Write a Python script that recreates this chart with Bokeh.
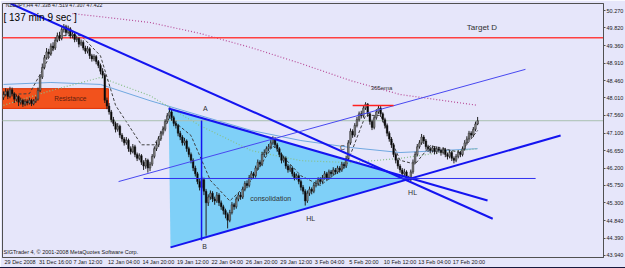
from bokeh.plotting import figure
from bokeh.models import ColumnDataSource, FixedTicker, Range1d, Label, NumeralTickFormatter, Div
from bokeh.layouts import column
from bokeh.embed import file_html
from bokeh.resources import INLINE

# ---------------- data ----------------
close = [48.10,48.18,48.05,48.22,48.12,47.98,48.05,47.90,47.95,47.85,47.92,47.88,47.95,47.86,47.93,47.98,48.20,
         48.55,48.80,49.05,49.20,49.15,49.35,49.30,49.50,49.62,49.55,49.78,49.85,49.70,49.80,49.62,49.66,49.52,49.55,
         49.40,49.45,49.30,49.22,49.28,49.10,49.02,49.08,48.95,48.85,48.70,48.60,47.95,47.80,47.65,47.45,47.35,47.20,
         47.28,47.05,46.95,46.85,46.92,46.70,46.62,46.75,46.55,46.45,46.52,46.35,46.25,46.40,46.20,46.30,46.50,46.70,
         46.80,46.95,47.10,47.20,47.40,47.55,47.65,47.50,47.35,47.30,47.10,47.00,46.85,46.90,46.70,46.55,46.40,46.20,
         46.05,45.85,45.70,45.90,45.60,45.30,45.45,45.55,45.40,45.35,45.50,45.30,45.20,45.10,45.00,44.85,45.05,45.25,
         45.20,45.40,45.50,45.45,45.65,45.80,45.75,45.95,46.05,46.00,46.20,46.35,46.30,46.55,46.60,46.70,46.75,46.85,
         46.95,46.80,46.70,46.55,46.40,46.45,46.25,46.15,46.20,46.05,45.95,46.00,45.85,45.70,45.60,45.35,45.55,45.65,
         45.60,45.75,45.80,45.90,45.85,45.95,46.05,45.95,46.10,46.05,46.15,46.10,46.20,46.15,46.30,46.25,46.45,46.85,
         47.15,47.05,47.30,47.45,47.60,47.55,47.75,47.85,47.60,47.40,47.25,47.50,47.65,47.75,47.60,47.45,47.30,47.10,
         46.95,46.80,46.55,46.40,46.25,46.15,46.05,46.10,45.95,45.90,46.10,46.35,46.55,46.75,46.85,47.00,46.90,46.75,
         46.70,46.65,46.72,46.62,46.70,46.66,46.60,46.68,46.55,46.50,46.60,46.45,46.40,46.50,46.60,46.55,46.70,46.85,
         46.95,47.10,47.05,47.20,47.338,47.422]
high = [48.18,48.26,48.24,48.30,48.28,48.16,48.10,48.08,48.02,47.99,47.98,47.97,48.02,47.99,47.98,48.04,48.28,
        48.62,48.90,49.12,49.30,49.28,49.42,49.45,49.58,49.70,49.72,49.84,49.92,49.90,49.88,49.84,49.74,49.70,49.62,
        49.58,49.52,49.50,49.36,49.35,49.32,49.15,49.14,49.12,48.99,48.90,48.78,48.65,48.02,47.88,47.70,47.52,47.40,
        47.36,47.32,47.10,47.00,47.00,46.96,46.76,46.82,46.80,46.60,46.58,46.56,46.40,46.46,46.44,46.36,46.56,46.76,
        46.88,47.02,47.16,47.28,47.46,47.62,47.76,47.70,47.55,47.42,47.34,47.16,47.05,46.98,46.94,46.75,46.60,46.45,
        46.26,46.10,45.92,45.98,45.95,45.66,45.52,45.62,45.60,45.46,45.58,45.55,45.36,45.25,45.15,45.05,45.12,45.32,
        45.30,45.46,45.56,45.58,45.72,45.86,45.88,46.02,46.12,46.10,46.26,46.42,46.40,46.62,46.68,46.76,46.82,46.92,
        47.02,47.00,46.85,46.74,46.60,46.52,46.50,46.30,46.28,46.24,46.10,46.06,46.04,45.90,45.76,45.65,45.62,45.72,
        45.70,45.82,45.88,45.96,45.96,46.02,46.12,46.10,46.16,46.15,46.22,46.20,46.26,46.25,46.36,46.35,46.52,46.92,
        47.22,47.20,47.36,47.52,47.66,47.68,47.82,47.90,47.88,47.64,47.45,47.56,47.72,47.82,47.80,47.64,47.50,47.35,
        47.15,47.00,46.85,46.60,46.45,46.30,46.20,46.18,46.14,46.00,46.16,46.42,46.62,46.82,46.92,47.08,47.05,46.95,
        46.80,46.75,46.78,46.76,46.76,46.75,46.70,46.74,46.72,46.60,46.66,46.64,46.50,46.56,46.66,46.64,46.76,46.92,
        47.02,47.16,47.15,47.26,47.40,47.519]
low = [47.96,48.05,47.98,48.00,48.05,47.88,47.92,47.80,47.84,47.78,47.80,47.82,47.84,47.80,47.82,47.88,47.94,
       48.16,48.50,48.75,49.00,49.05,49.10,49.22,49.25,49.45,49.48,49.50,49.70,49.62,49.65,49.55,49.55,49.45,49.46,
       49.32,49.35,49.24,49.15,49.16,49.02,48.95,48.96,48.88,48.78,48.62,48.52,47.88,47.72,47.58,47.38,47.28,47.12,
       47.14,46.98,46.88,46.78,46.80,46.62,46.55,46.58,46.48,46.38,46.40,46.28,46.15,46.18,46.08,46.12,46.25,46.45,
       46.64,46.74,46.90,47.04,47.15,47.35,47.48,47.42,47.28,47.22,47.02,46.92,46.78,46.78,46.62,46.48,46.32,46.12,
       45.98,45.78,45.62,45.65,45.50,44.45,45.22,45.38,45.32,45.25,45.30,45.22,45.12,45.00,44.90,44.64,44.80,45.00,
       45.12,45.15,45.34,45.38,45.40,45.60,45.68,45.70,45.90,45.92,45.95,46.15,46.22,46.25,46.48,46.54,46.64,46.70,
       46.80,46.72,46.62,46.48,46.32,46.34,46.18,46.08,46.10,45.98,45.88,45.90,45.78,45.62,45.52,45.23,45.30,45.48,
       45.52,45.55,45.70,45.74,45.78,45.80,45.90,45.88,45.90,45.98,46.00,46.04,46.05,46.08,46.10,46.18,46.20,46.40,
       46.80,46.98,47.00,47.25,47.40,47.48,47.50,47.70,47.52,47.32,47.18,47.20,47.45,47.60,47.52,47.38,47.22,47.02,
       46.88,46.72,46.48,46.32,46.18,46.08,45.98,45.98,45.88,45.85,45.86,46.05,46.30,46.50,46.70,46.80,46.82,46.68,
       46.62,46.58,46.60,46.55,46.56,46.60,46.52,46.55,46.48,46.42,46.45,46.38,46.32,46.35,46.45,46.48,46.50,46.65,
       46.80,46.90,46.98,47.00,47.15,47.307]
first_open = 48.02
open_ = [first_open] + close[:-1]
bar = list(range(len(close)))

tick_bars = [0, 16, 32, 48, 64, 80, 96, 112, 128, 144, 160, 176, 192, 208]
tick_text = ["29 Dec 2008", "31 Dec 16:00", "7 Jan 12:00", "12 Jan 04:00", "14 Jan 20:00", "19 Jan 12:00",
             "22 Jan 04:00", "26 Jan 20:00", "29 Jan 12:00", "3 Feb 04:00", "5 Feb 20:00", "10 Feb 12:00",
             "13 Feb 04:00", "17 Feb 20:00"]
price_ticks = [50.270, 49.820, 49.360, 48.910, 48.460, 48.010, 47.560, 47.100, 46.650, 46.200,
               45.750, 45.300, 44.840, 44.390, 43.940]
target_d = 49.568
bid = 47.422

# indicator lines (bar, price)
ema365_x = [32, 45, 68, 91, 115, 138, 161, 184, 220]
ema365_y = [50.19, 50.11, 49.96, 49.68, 49.31, 48.90, 48.46, 48.10, 47.82]
ma_blue_x = [0, 22, 45, 68, 91, 115, 138, 161, 184, 203, 220]
ma_blue_y = [48.36, 48.41, 48.36, 47.94, 47.56, 47.17, 46.91, 46.73, 46.60, 46.65, 46.70]
ma_green_x = [0, 22, 45, 68, 91, 115, 138, 161, 184, 203, 220]
ma_green_y = [47.82, 48.20, 48.54, 48.07, 47.30, 46.65, 46.39, 46.34, 46.45, 46.60, 46.70]
ma_dash_x = [0, 12, 19, 26, 36, 45, 52, 64, 70, 77, 87, 96, 105, 115, 125, 138, 147, 159, 168, 175, 184, 191, 198, 212, 220]
ma_dash_y = [48.10, 48.12, 48.82, 49.62, 49.62, 49.10, 47.82, 46.80, 46.80, 47.50, 47.04, 45.88, 45.35, 45.88, 46.78,
             46.00, 45.75, 46.26, 47.56, 47.56, 46.40, 46.30, 46.78, 46.60, 47.17]

# drawn objects (bar, price)
resist_x = [-1.5, 48.7]
resist_y = [47.74, 48.25]
tri_x = [76.6, 77.5, 188.9]
tri_y = [47.74, 44.15, 45.93]
down_x = [3.25, 227.0]
down_y = [50.451, 44.89]
tri_up_x = [76.6, 224.6]
tri_up_y = [47.74, 45.36]
tri_lo_x = [77.5, 258.5]
tri_lo_y = [44.15, 47.04]
chan_x = [53.4, 242.2]
chan_y = [45.85, 48.75]
hl_x = [65.0, 246.9]
hl_y = [45.93, 45.93]
vert_x = [91.9, 91.9]
vert_y = [47.43, 44.33]
top_x = [162.0, 181.0]
top_y = [47.815, 47.815]

# ---------------- figure ----------------
BG = "#E6E6FA"
p = figure(frame_width=601, frame_height=254, output_backend="svg", toolbar_location=None,
           x_range=Range1d(-0.46, 278.4), y_range=Range1d(43.888, 50.451),
           y_axis_location="right", min_border_left=2, min_border_top=3,
           min_border_right=22, min_border_bottom=8)
p.background_fill_color = BG
p.border_fill_color = BG
p.outline_line_color = "#505050"
p.grid.visible = False

# x labels in MT4 start at the bar: shift each label's anchor by half its text width
CW = {"D": .722, "J": .5, "F": .611, "e": .556, "c": .5, "a": .556, "n": .556, "b": .556,
      " ": .278, ":": .278}
LBL_PX = 5.5
PX_PER_BAR = 601 / (278.4 + 0.46)
def half_width_bars(s):
    w = sum(CW.get(ch, .556) for ch in s) * LBL_PX
    return (w / 2 + 1) / PX_PER_BAR
label_pos = [round(b + half_width_bars(s), 3) for b, s in zip(tick_bars, tick_text)]

xa = p.xaxis[0]
xa.ticker = FixedTicker(ticks=label_pos)
xa.major_label_overrides = {t: s for t, s in zip(label_pos, tick_text)}
xa.major_label_text_font = "Liberation Sans"
xa.major_label_text_font_size = f"{LBL_PX}px"
xa.major_label_text_color = "#202020"
xa.major_tick_out = 0
xa.major_tick_in = 0
xa.minor_tick_out = 0
xa.minor_tick_in = 0
xa.major_label_standoff = 1
xa.axis_line_color = "#505050"

ya = p.yaxis[0]
ya.ticker = FixedTicker(ticks=price_ticks)
ya.formatter = NumeralTickFormatter(format="0.000")
ya.major_label_text_font = "Liberation Sans"
ya.major_label_text_font_size = "5.5px"
ya.major_label_text_color = "#202020"
ya.major_tick_out = 2
ya.major_tick_in = 0
ya.minor_tick_out = 0
ya.major_label_standoff = 1
ya.axis_line_color = "#505050"
ya.major_tick_line_color = "#505050"

# background objects
p.quad(left=[resist_x[0]], right=[resist_x[1]], bottom=[resist_y[0]], top=[resist_y[1]],
       fill_color="#F24A10", line_color="#E03000", fill_alpha=0.95)
p.patch(tri_x, tri_y, fill_color="#7FD0F8", line_color=None)

# indicator lines
p.line(ema365_x, ema365_y, line_color="#B84C98", line_dash="1 2", line_width=1.2)
p.line(ma_blue_x, ma_blue_y, line_color="#70A8E0", line_width=1)
p.line(ma_green_x, ma_green_y, line_color="#88C088", line_dash="1 2", line_width=1.2)
p.line(ma_dash_x, ma_dash_y, line_color="#404040", line_dash="3 2", line_width=1)

# horizontal levels
p.line([-1, 279], [target_d, target_d], line_color="#FF4040", line_width=1.5)
p.line([-1, 279], [bid, bid], line_color="#A8BFB0", line_width=1)

# candles
top = [max(a, b) for a, b in zip(open_, close)]
bot = [min(a, b) for a, b in zip(open_, close)]
col = ["#000000" if c < o else "#8A8A8A" for o, c in zip(open_, close)]
src = ColumnDataSource(dict(x=bar, h=high, l=low, t=top, b=bot, col=col))
p.segment(x0="x", y0="h", x1="x", y1="l", source=src, line_color="#202020", line_width=1)
p.vbar(x="x", width=0.75, top="t", bottom="b", source=src, fill_color="col", line_color="#202020", line_width=0.5)

# trend lines
BLUE = "#1414F0"
p.line(down_x, down_y, line_color=BLUE, line_width=2)
p.line(tri_up_x, tri_up_y, line_color=BLUE, line_width=2)
p.line(tri_lo_x, tri_lo_y, line_color=BLUE, line_width=2)
p.line(chan_x, chan_y, line_color="#4848F0", line_width=1)
p.line(hl_x, hl_y, line_color="#3030F0", line_width=1)
p.line(vert_x, vert_y, line_color=BLUE, line_width=1.5)
p.line(top_x, top_y, line_color="#FF2020", line_width=1.5)

def txt(x, y, s, size="6.5px", color="#303030", align="left", font="Liberation Sans"):
    p.add_layout(Label(x=x, y=y, text=s, text_font_size=size, text_color=color, text_align=align,
                       text_baseline="middle", text_font=font))

txt(1, 50.40, "NZDJPY,H4  47.338 47.519 47.307 47.422", size="5.2px", color="#202020")
txt(0, 50.08, "[ 137 min 9 sec ]", size="10px", color="#000000")
txt(0, 44.04, "SIGTrader 4, \u00a9 2001-2008 MetaQuotes Software Corp.", size="5.5px", color="#202020")
txt(215, 49.83, "Target  D", size="8px", color="#303030")
txt(175.4, 48.28, "365ema", size="6px", color="#303030", align="center")
txt(31, 48.0, "Resistance", size="6.5px", color="#602010", align="center")
txt(93.7, 47.74, "A", size="7px", align="center")
txt(93.3, 44.17, "B", size="7px", align="center")
txt(157.3, 46.73, "C", size="7px", align="center")
txt(142.5, 44.90, "HL", size="7px", align="center")
txt(189.8, 45.57, "HL", size="7px", align="center")
txt(124, 45.41, "consolidation", size="7px", align="center")

# price boxes on the axis
p.add_layout(Label(x=604, y=target_d, x_units="canvas", text="49.568", text_font_size="5.5px",
                   text_color="white", background_fill_color="#FF2020", text_baseline="middle",
                   text_font="Liberation Sans", padding=1))
p.add_layout(Label(x=604, y=bid, x_units="canvas", text="47.422", text_font_size="5.5px",
                   text_color="white", background_fill_color="#101020", text_baseline="middle",
                   text_font="Liberation Sans", padding=1))

strip = Div(text="", width=625, height=3, margin=0, styles={"background-color": "#18183C"})
layout = column(p, strip, spacing=0, margin=0)

open("out.html", "w").write(file_html(layout, INLINE))
